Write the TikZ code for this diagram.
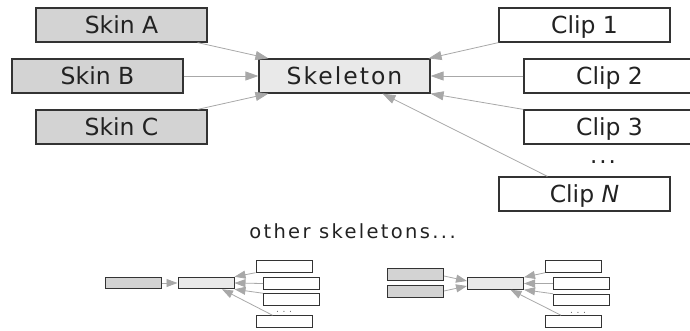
\documentclass[tikz,border=0pt]{standalone}
\usepackage{fontspec}
\setmainfont{DejaVu Sans}
\newfontfamily\skelfont[LetterSpace=8.5]{DejaVu Sans}
\newfontfamily\otherfont[LetterSpace=12]{DejaVu Sans}
\newfontfamily\dotfont[LetterSpace=40]{DejaVu Sans}
\usetikzlibrary{arrows.meta,calc}
\definecolor{boxline}{HTML}{333333}
\definecolor{skinfill}{HTML}{D3D3D3}
\definecolor{skelfill}{HTML}{E9E9E9}
\definecolor{linec}{HTML}{A8A8A8}
\definecolor{textc}{HTML}{222222}
\tikzset{
  box/.style={draw=boxline, line width=1.2pt, inner sep=0pt,
    minimum width=171pt, minimum height=34pt,
    font=\fontsize{23.5}{27}\selectfont, text height=17.1pt, text depth=0pt, text=textc},
  skinbox/.style={box, fill=skinfill},
  skelbox/.style={box, fill=skelfill},
  clipbox/.style={box, fill=white},
  sbox/.style={draw=boxline, line width=1pt, inner sep=0pt,
    minimum width=56pt, minimum height=11.5pt},
  sskin/.style={sbox, fill=skinfill},
  sskel/.style={sbox, fill=skelfill},
  sclip/.style={sbox, fill=white},
  conn/.style={draw=linec, line width=0.8pt, -{Triangle[length=13pt,width=9pt]}},
  sconn/.style={draw=linec, line width=0.8pt, -{Triangle[length=11pt,width=8pt]}},
  dots/.style={font=\fontsize{23}{27}\selectfont, text=textc, inner sep=0pt, anchor=base},
  sdots/.style={font=\fontsize{9}{10}\selectfont, text=textc!70, inner sep=0pt, anchor=base},
}
\begin{document}
\begin{tikzpicture}[x=1pt, y=-1pt]
\clip (0,0) rectangle (690,331);
% top diagram
\node[skinbox] (skinA) at (121.5,25) {Skin A};
\node[skinbox] (skinB) at (97.5,76) {Skin B};
\node[skinbox] (skinC) at (121.5,127) {Skin C};
\node[skelbox] (skel) at (344.5,76) {\skelfont Skeleton};
\node[clipbox] (clip1) at (584.5,25) {Clip 1};
\node[clipbox] (clip2) at (609.5,76) {Clip 2};
\node[clipbox] (clip3) at (609.5,127) {Clip 3};
\node[dots] (dots) at (603,164) {\skelfont ...};
\node[clipbox] (clipN) at (584.5,194) {Clip \textit{N}};

\draw[conn] ($(skinA.south east)+(-10,0)$) -- ($(skel.north west)+(10,0)$);
\draw[conn] (skinB.east) -- (skel.west);
\draw[conn] ($(skinC.north east)+(-10,0)$) -- ($(skel.south west)+(10,0)$);
\draw[conn] (clip1.south west) -- ($(skel.north east)+(-2,0)$);
\draw[conn] (clip2.west) -- (skel.east);
\draw[conn] (clip3.north west) -- (skel.south east);
\draw[conn] ($(clipN.north west)+(49,0)$) -- ($(skel.south)+(38,0)$);

\node[font=\fontsize{19.5}{23}\selectfont, text=textc, inner sep=0pt, anchor=base] (other) at (352.5,238) {\otherfont other skeletons...};

% bottom left diagram
\node[sskin] (lskin) at (133.5,283) {};
\node[sskel] (lskel) at (206,283) {};
\node[sclip] (lc1) at (284,266.5) {};
\node[sclip] (lc2) at (291.5,283.5) {};
\node[sclip] (lc3) at (291.5,299.5) {};
\node[sdots] (ldots) at (284,312) {\dotfont ...};
\node[sclip] (lcN) at (284,321.5) {};

\draw[sconn] (lskin.east) -- (lskel.west);
\draw[sconn] (lc1.south west) -- (lskel.north east);
\draw[sconn] (lc2.west) -- (lskel.east);
\draw[sconn] (lc3.north west) -- (lskel.south east);
\draw[sconn] ($(lcN.north west)+(17,0)$) -- ($(lskel.south)+(16,0)$);

% bottom right diagram
\node[sskin] (rskin1) at (415.5,274.5) {};
\node[sskin] (rskin2) at (415.5,291.5) {};
\node[sskel] (rskel) at (495.5,283.5) {};
\node[sclip] (rc1) at (573.5,266.5) {};
\node[sclip] (rc2) at (581.5,283.5) {};
\node[sclip] (rc3) at (581.5,300) {};
\node[sdots] (rdots) at (578,313) {\dotfont ...};
\node[sclip] (rcN) at (573.5,321.5) {};

\draw[sconn] ($(rskin1.east)+(0,1.5)$) -- ($(rskel.west)+(0,-2.5)$);
\draw[sconn] ($(rskin2.east)+(0,-0.5)$) -- ($(rskel.west)+(0,2.5)$);
\draw[sconn] (rc1.south west) -- (rskel.north east);
\draw[sconn] (rc2.west) -- (rskel.east);
\draw[sconn] (rc3.north west) -- (rskel.south east);
\draw[sconn] ($(rcN.north west)+(16,0)$) -- ($(rskel.south)+(15,0)$);
\end{tikzpicture}
\end{document}
